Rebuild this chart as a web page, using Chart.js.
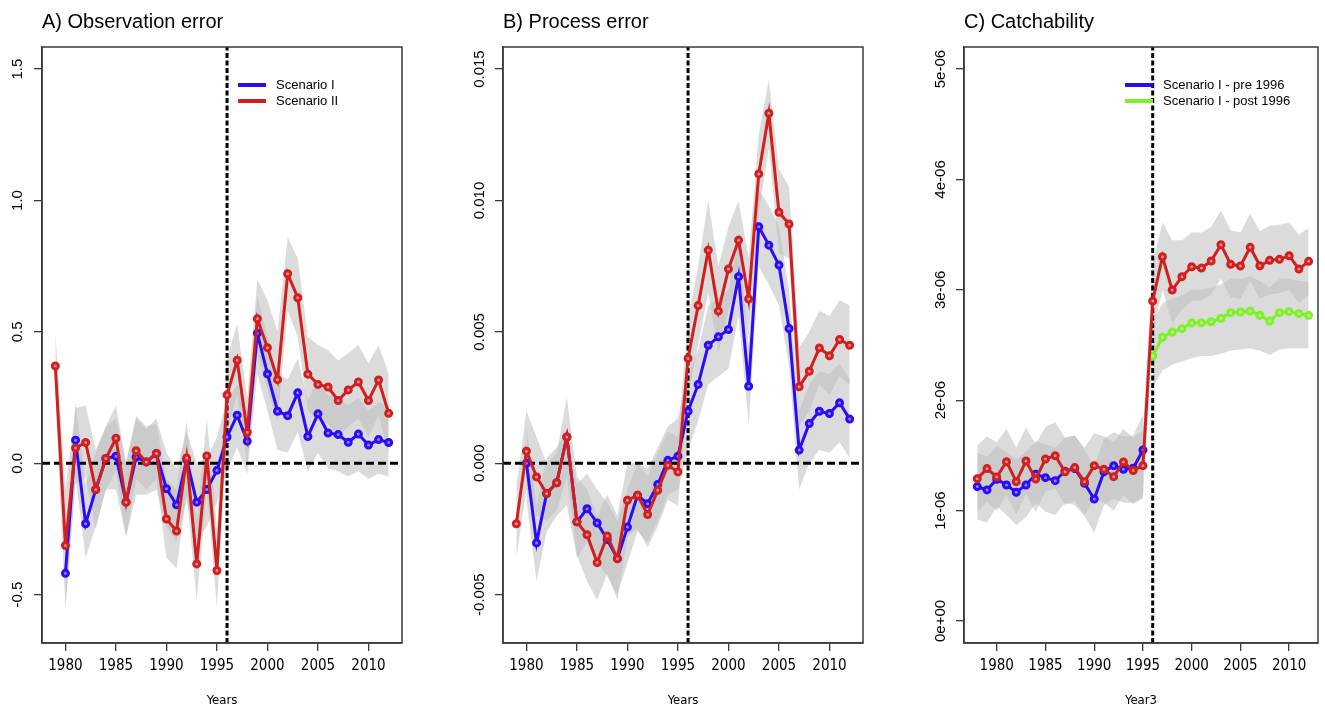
<!DOCTYPE html>
<html>
<head>
<meta charset="utf-8">
<script src="https://cdn.jsdelivr.net/npm/chart.js@4.4.1/dist/chart.umd.min.js"></script>
<style>
  body { margin: 0; background: #fff; width: 1325px; height: 709px; overflow: hidden; position: relative; }
  canvas { position: absolute; top: 0; }
</style>
</head>
<body>
<canvas id="chartA" width="442" height="709" style="left:0px"></canvas>
<canvas id="chartB" width="441" height="709" style="left:442px"></canvas>
<canvas id="chartC" width="442" height="709" style="left:883px"></canvas>
<script>
// ---- dados ----
const yearsAll = [1979, 1980, 1981, 1982, 1983, 1984, 1985, 1986, 1987, 1988, 1989, 1990, 1991, 1992, 1993, 1994, 1995,
                  1996, 1997, 1998, 1999, 2000, 2001, 2002, 2003, 2004, 2005, 2006, 2007, 2008, 2009, 2010, 2011, 2012];
const yearsI = [1980, 1981, 1982, 1983, 1984, 1985, 1986, 1987, 1988, 1989, 1990, 1991, 1992, 1993, 1994, 1995,
                1996, 1997, 1998, 1999, 2000, 2001, 2002, 2003, 2004, 2005, 2006, 2007, 2008, 2009, 2010, 2011, 2012];
const yearsC = [1978, 1979, 1980, 1981, 1982, 1983, 1984, 1985, 1986, 1987, 1988, 1989, 1990, 1991, 1992, 1993, 1994, 1995,
                1996, 1997, 1998, 1999, 2000, 2001, 2002, 2003, 2004, 2005, 2006, 2007, 2008, 2009, 2010, 2011, 2012];
const yearsPre = [1978, 1979, 1980, 1981, 1982, 1983, 1984, 1985, 1986, 1987, 1988, 1989, 1990, 1991, 1992, 1993, 1994, 1995];
const yearsPost = [1996, 1997, 1998, 1999, 2000, 2001, 2002, 2003, 2004, 2005, 2006, 2007, 2008, 2009, 2010, 2011, 2012];

const xTicks = [1980, 1985, 1990, 1995, 2000, 2005, 2010];
const breakYear = 1996;

// A) Observation error
const obsII = [0.370, -0.313, 0.058, 0.079, -0.100, 0.018, 0.095, -0.148, 0.048, 0.005, 0.037, -0.212, -0.258, 0.020, -0.383, 0.028, -0.408,
               0.260, 0.392, 0.118, 0.550, 0.440, 0.318, 0.721, 0.630, 0.339, 0.300, 0.290, 0.239, 0.279, 0.309, 0.239, 0.317, 0.190];
const obsIIUp = [0.50, -0.10, 0.21, 0.22, 0.05, 0.14, 0.22, 0.00, 0.18, 0.14, 0.15, -0.06, -0.10, 0.16, -0.22, 0.17, -0.25,
                 0.40, 0.53, 0.25, 0.70, 0.62, 0.50, 0.86, 0.78, 0.48, 0.45, 0.43, 0.39, 0.42, 0.45, 0.38, 0.45, 0.34];
const obsIILo = [0.25, -0.55, -0.08, -0.05, -0.25, -0.10, -0.03, -0.28, -0.06, -0.10, -0.06, -0.36, -0.40, -0.12, -0.52, -0.10, -0.55,
                 0.12, 0.26, -0.01, 0.42, 0.28, 0.16, 0.58, 0.48, 0.20, 0.16, 0.15, 0.10, 0.14, 0.17, 0.10, 0.18, 0.04];
const obsI = [-0.419, 0.088, -0.230, -0.100, 0.018, 0.027, -0.148, 0.024, 0.005, 0.037, -0.097, -0.158, 0.014, -0.148, -0.100, -0.027,
              0.100, 0.183, 0.084, 0.495, 0.340, 0.198, 0.181, 0.268, 0.102, 0.188, 0.115, 0.109, 0.080, 0.111, 0.069, 0.090, 0.079];
const obsIUp = [-0.30, 0.23, -0.08, 0.04, 0.14, 0.17, 0.00, 0.17, 0.13, 0.17, 0.04, -0.02, 0.12, 0.00, 0.02, 0.10,
                0.24, 0.30, 0.20, 0.64, 0.48, 0.34, 0.32, 0.40, 0.24, 0.32, 0.26, 0.25, 0.22, 0.25, 0.20, 0.23, 0.22];
const obsILo = [-0.55, -0.05, -0.36, -0.24, -0.10, -0.10, -0.28, -0.12, -0.12, -0.10, -0.24, -0.30, -0.14, -0.30, -0.24, -0.15,
                -0.03, 0.06, -0.04, 0.34, 0.20, 0.05, 0.04, 0.12, -0.03, 0.04, -0.02, -0.03, -0.05, -0.03, -0.06, -0.04, -0.05];
const yTicksA = [-0.5, 0, 0.5, 1.0, 1.5];
const yLabelsA = ['-0.5', '0.0', '0.5', '1.0', '1.5'];

// B) Process error
const procII = [-0.00230, 0.00046, -0.00052, -0.00115, -0.00074, 0.00100, -0.00223, -0.00272, -0.00378, -0.00277, -0.00363, -0.00141, -0.00122, -0.00195, -0.00103, -0.00008, -0.00033,
                0.00399, 0.00600, 0.00811, 0.00579, 0.00739, 0.00849, 0.00625, 0.01101, 0.01332, 0.00955, 0.00910, 0.00291, 0.00350, 0.00439, 0.00409, 0.00471, 0.00449];
const procIIUp = [-0.0009, 0.0020, 0.0010, 0.0000, 0.0004, 0.0025, -0.0005, -0.0010, -0.0020, -0.0012, -0.0020, 0.0000, 0.0000, -0.0005, 0.0004, 0.0012, 0.0010,
                  0.0055, 0.0075, 0.0100, 0.0075, 0.0090, 0.0100, 0.0078, 0.0125, 0.0146, 0.0112, 0.0105, 0.0044, 0.0050, 0.0058, 0.0056, 0.0062, 0.0060];
const procIILo = [-0.0036, -0.0010, -0.0020, -0.0022, -0.0018, -0.0005, -0.0035, -0.0045, -0.0052, -0.0042, -0.0052, -0.0028, -0.0025, -0.0032, -0.0024, -0.0014, -0.0016,
                  0.0025, 0.0045, 0.0065, 0.0042, 0.0058, 0.0070, 0.0048, 0.0095, 0.0120, 0.0080, 0.0078, 0.0014, 0.0020, 0.0030, 0.0026, 0.0033, 0.0030];
const procI = [0.00000, -0.00303, -0.00115, -0.00074, 0.00100, -0.00223, -0.00173, -0.00227, -0.00290, -0.00363, -0.00243, -0.00122, -0.00154, -0.00081, 0.00011, 0.00027,
               0.00198, 0.00300, 0.00449, 0.00481, 0.00509, 0.00710, 0.00293, 0.00900, 0.00830, 0.00754, 0.00513, 0.00050, 0.00151, 0.00198, 0.00189, 0.00230, 0.00168];
const procIUp = [0.0014, -0.0016, 0.0002, 0.0006, 0.0012, -0.0008, -0.0004, -0.0010, -0.0015, -0.0022, -0.0010, 0.0000, -0.0002, 0.0006, 0.0014, 0.0017,
                 0.0034, 0.0043, 0.0060, 0.0063, 0.0066, 0.0086, 0.0045, 0.0104, 0.0098, 0.0090, 0.0066, 0.0020, 0.0030, 0.0035, 0.0034, 0.0038, 0.0032];
const procILo = [-0.0014, -0.0045, -0.0026, -0.0020, -0.0016, -0.0036, -0.0030, -0.0038, -0.0043, -0.0050, -0.0038, -0.0026, -0.0030, -0.0022, -0.0012, -0.0010,
                 0.0005, 0.0016, 0.0030, 0.0033, 0.0036, 0.0056, 0.0015, 0.0075, 0.0068, 0.0060, 0.0037, -0.0010, 0.0000, 0.0005, 0.0004, 0.0008, 0.0002];
const yTicksB = [-0.005, 0, 0.005, 0.010, 0.015];
const yLabelsB = ['-0.005', '0.000', '0.005', '0.010', '0.015'];

// C) Catchability
const catchII = [1.289e-6, 1.380e-6, 1.304e-6, 1.443e-6, 1.262e-6, 1.449e-6, 1.286e-6, 1.467e-6, 1.497e-6, 1.352e-6, 1.389e-6, 1.262e-6, 1.407e-6, 1.374e-6, 1.307e-6, 1.440e-6, 1.362e-6, 1.407e-6,
                 2.899e-6, 3.300e-6, 2.998e-6, 3.119e-6, 3.209e-6, 3.197e-6, 3.261e-6, 3.409e-6, 3.231e-6, 3.216e-6, 3.385e-6, 3.218e-6, 3.267e-6, 3.276e-6, 3.309e-6, 3.188e-6, 3.258e-6];
const catchIIUp = [1.59e-6, 1.67e-6, 1.62e-6, 1.74e-6, 1.57e-6, 1.75e-6, 1.60e-6, 1.76e-6, 1.80e-6, 1.66e-6, 1.68e-6, 1.57e-6, 1.70e-6, 1.67e-6, 1.62e-6, 1.74e-6, 1.66e-6, 1.72e-6,
                   3.25e-6, 3.61e-6, 3.45e-6, 3.45e-6, 3.52e-6, 3.52e-6, 3.57e-6, 3.72e-6, 3.54e-6, 3.52e-6, 3.69e-6, 3.53e-6, 3.58e-6, 3.59e-6, 3.61e-6, 3.50e-6, 3.56e-6];
const catchIILo = [0.99e-6, 1.08e-6, 1.00e-6, 1.14e-6, 0.96e-6, 1.15e-6, 0.99e-6, 1.17e-6, 1.20e-6, 1.05e-6, 1.09e-6, 0.96e-6, 1.10e-6, 1.07e-6, 1.00e-6, 1.14e-6, 1.06e-6, 1.11e-6,
                   2.60e-6, 3.00e-6, 2.70e-6, 2.82e-6, 2.90e-6, 2.90e-6, 2.96e-6, 3.10e-6, 2.93e-6, 2.92e-6, 3.08e-6, 2.92e-6, 2.96e-6, 2.97e-6, 3.00e-6, 2.88e-6, 2.95e-6];
const catchPre = [1.217e-6, 1.187e-6, 1.284e-6, 1.232e-6, 1.166e-6, 1.232e-6, 1.329e-6, 1.298e-6, 1.271e-6, 1.356e-6, 1.380e-6, 1.247e-6, 1.105e-6, 1.352e-6, 1.407e-6, 1.374e-6, 1.383e-6, 1.549e-6];
const catchPreUp = [1.52e-6, 1.49e-6, 1.58e-6, 1.53e-6, 1.47e-6, 1.53e-6, 1.63e-6, 1.60e-6, 1.57e-6, 1.66e-6, 1.68e-6, 1.55e-6, 1.40e-6, 1.65e-6, 1.71e-6, 1.67e-6, 1.68e-6, 1.87e-6];
const catchPreLo = [0.92e-6, 0.89e-6, 1.04e-6, 0.96e-6, 0.87e-6, 0.94e-6, 1.07e-6, 0.99e-6, 0.96e-6, 1.07e-6, 1.05e-6, 0.95e-6, 0.80e-6, 1.05e-6, 1.11e-6, 1.07e-6, 1.07e-6, 1.13e-6];
const catchPost = [2.400e-6, 2.570e-6, 2.618e-6, 2.648e-6, 2.699e-6, 2.702e-6, 2.711e-6, 2.742e-6, 2.793e-6, 2.799e-6, 2.808e-6, 2.769e-6, 2.717e-6, 2.793e-6, 2.802e-6, 2.784e-6, 2.769e-6];
const catchPostUp = [2.70e-6, 2.88e-6, 2.92e-6, 2.95e-6, 3.00e-6, 3.00e-6, 3.02e-6, 3.05e-6, 3.10e-6, 3.10e-6, 3.12e-6, 3.08e-6, 3.02e-6, 3.10e-6, 3.10e-6, 3.08e-6, 3.07e-6];
const catchPostLo = [2.12e-6, 2.27e-6, 2.32e-6, 2.35e-6, 2.38e-6, 2.40e-6, 2.40e-6, 2.42e-6, 2.45e-6, 2.46e-6, 2.47e-6, 2.45e-6, 2.41e-6, 2.46e-6, 2.47e-6, 2.47e-6, 2.47e-6];
const yTicksC = [0, 1e-6, 2e-6, 3e-6, 4e-6, 5e-6];
const yLabelsC = ['0e+00', '1e-06', '2e-06', '3e-06', '4e-06', '5e-06'];

// ---- estilos ----
const sans = '"Liberation Sans", Arial, Helvetica, sans-serif';
const narrow = '"Liberation Sans Narrow", "Arial Narrow", "DejaVu Sans Condensed", sans-serif';
const axisColor = '#3a3a3a';
const bandFill = 'rgba(190, 190, 190, 0.55)';
const BLUE = '#2a0cf5', BLUE_L = '#8f86ff';
const RED = '#d11f1f', RED_L = '#ef8f8f';
const GREEN = '#7ff02a', GREEN_L = '#c4fa9c';

Chart.defaults.font.family = sans;

function xy(xs, ys) {
    return xs.map((x, i) => ({ x: x, y: ys[i] }));
}

function band(xs, up, lo) {
    return [
        { data: xy(xs, up), borderWidth: 0, pointRadius: 0, fill: '+1', backgroundColor: bandFill, order: 4 },
        { data: xy(xs, lo), borderWidth: 0, pointRadius: 0, fill: false, order: 4 }
    ];
}

// ordem menor = desenhado por cima (vermelho fica no topo)
function serie(xs, ys, color, light, ordem) {
    return {
        data: xy(xs, ys), borderColor: color, borderWidth: 3, fill: false, tension: 0,
        pointRadius: 3, pointBorderWidth: 3, pointBorderColor: color, pointBackgroundColor: light, order: ordem
    };
}

function tracejado(pts, dash) {
    return { data: pts, borderColor: '#000', borderWidth: 3, borderDash: dash, pointRadius: 0, fill: false, order: 3 };
}

// moldura, título e legenda (estilo R)
const decor = {
    id: 'decor',
    afterDraw(chart, args, opts) {
        const { ctx, chartArea: a } = chart;
        ctx.save();
        ctx.strokeStyle = axisColor;
        ctx.lineWidth = 1.5;
        ctx.strokeRect(a.left, a.top, a.right - a.left, a.bottom - a.top);
        ctx.fillStyle = '#000';
        ctx.font = '20px ' + sans;
        ctx.textAlign = 'left';
        ctx.textBaseline = 'alphabetic';
        ctx.fillText(opts.title, a.left, 28);
        ctx.font = '13px ' + sans;
        ctx.textBaseline = 'middle';
        opts.legend.forEach((it, i) => {
            const y = a.top + 38 + i * 16;
            ctx.strokeStyle = it.color;
            ctx.lineWidth = 4;
            ctx.beginPath();
            ctx.moveTo(a.left + opts.legendX, y);
            ctx.lineTo(a.left + opts.legendX + 28, y);
            ctx.stroke();
            ctx.fillText(it.text, a.left + opts.legendX + 38, y);
        });
        ctx.restore();
    }
};

function painel(id, cfg) {
    const xMin = cfg.xMin, xMax = cfg.xMax;
    const datasets = [].concat(cfg.datasets);
    datasets.push(tracejado([{ x: breakYear, y: cfg.yMin }, { x: breakYear, y: cfg.yMax }], [5, 2.5]));
    if (cfg.zeroLine) {
        datasets.push(tracejado([{ x: xMin, y: 0 }, { x: xMax, y: 0 }], [8, 4]));
    }
    return new Chart(document.getElementById(id), {
        type: 'line',
        data: { datasets: datasets },
        plugins: [decor],
        options: {
            responsive: false,
            animation: false,
            layout: { padding: { top: 47, right: cfg.padRight, bottom: 0, left: 0 } },
            plugins: {
                legend: { display: false },
                tooltip: { enabled: false },
                decor: { title: cfg.title, legend: cfg.legend, legendX: cfg.legendX }
            },
            scales: {
                x: {
                    type: 'linear', min: xMin, max: xMax,
                    afterBuildTicks: s => { s.ticks = xTicks.map(v => ({ value: v })); },
                    afterFit: s => { s.height = 66; },
                    grid: { display: true, drawOnChartArea: false, drawTicks: true, tickLength: 8, color: axisColor, lineWidth: 1.3 },
                    border: { display: true, color: axisColor, width: 1.5 },
                    ticks: { font: { family: narrow, size: 15 }, color: '#000', padding: 6, maxRotation: 0, autoSkip: false,
                             callback: v => String(v) },
                    title: { display: true, text: cfg.xTitle, font: { family: narrow, size: 13 }, color: '#000',
                             padding: { top: 0, bottom: 1 } }
                },
                y: {
                    type: 'linear', min: cfg.yMin, max: cfg.yMax,
                    afterBuildTicks: s => { s.ticks = cfg.yTicks.map(v => ({ value: v })); },
                    afterFit: s => { s.width = cfg.leftW; },
                    grid: { display: true, drawOnChartArea: false, drawTicks: true, tickLength: 8, color: axisColor, lineWidth: 1.3 },
                    border: { display: true, color: axisColor, width: 1.5 },
                    ticks: { font: { size: 15 }, color: '#000', minRotation: 90, maxRotation: 90, crossAlign: 'center',
                             padding: cfg.yPad, autoSkip: false,
                             callback: (v, i) => cfg.yLabels[i] }
                }
            }
        }
    });
}

window.onload = function() {
    painel('chartA', {
        title: 'A) Observation error', xTitle: 'Years',
        xMin: 1977.68, xMax: 2013.32, yMin: -0.684, yMax: 1.584,
        yTicks: yTicksA, yLabels: yLabelsA, leftW: 42, padRight: 40, yPad: 3, zeroLine: true,
        legendX: 196,
        legend: [{ text: 'Scenario I', color: BLUE }, { text: 'Scenario II', color: RED }],
        datasets: [
            serie(yearsAll, obsII, RED, RED_L, 1),
            serie(yearsI, obsI, BLUE, BLUE_L, 2),
            ...band(yearsAll, obsIIUp, obsIILo),
            ...band(yearsI, obsIUp, obsILo)
        ]
    });

    painel('chartB', {
        title: 'B) Process error', xTitle: 'Years',
        xMin: 1977.68, xMax: 2013.32, yMin: -0.00684, yMax: 0.01584,
        yTicks: yTicksB, yLabels: yLabelsB, leftW: 61, padRight: 20, yPad: -6, zeroLine: true,
        legendX: 0, legend: [],
        datasets: [
            serie(yearsAll, procII, RED, RED_L, 1),
            serie(yearsI, procI, BLUE, BLUE_L, 2),
            ...band(yearsAll, procIIUp, procIILo),
            ...band(yearsI, procIUp, procILo)
        ]
    });

    painel('chartC', {
        title: 'C) Catchability', xTitle: 'Year3',
        xMin: 1976.64, xMax: 2012.96, yMin: -0.2e-6, yMax: 5.2e-6,
        yTicks: yTicksC, yLabels: yLabelsC, leftW: 81, padRight: 5, yPad: -5.5, zeroLine: false,
        legendX: 161,
        legend: [{ text: 'Scenario I - pre 1996', color: BLUE }, { text: 'Scenario I - post 1996', color: GREEN }],
        datasets: [
            serie(yearsC, catchII, RED, RED_L, 1),
            serie(yearsPre, catchPre, BLUE, BLUE_L, 2),
            serie(yearsPost, catchPost, GREEN, GREEN_L, 2),
            ...band(yearsC, catchIIUp, catchIILo),
            ...band(yearsPre, catchPreUp, catchPreLo),
            ...band(yearsPost, catchPostUp, catchPostLo)
        ]
    });
};
</script>
</body>
</html>
